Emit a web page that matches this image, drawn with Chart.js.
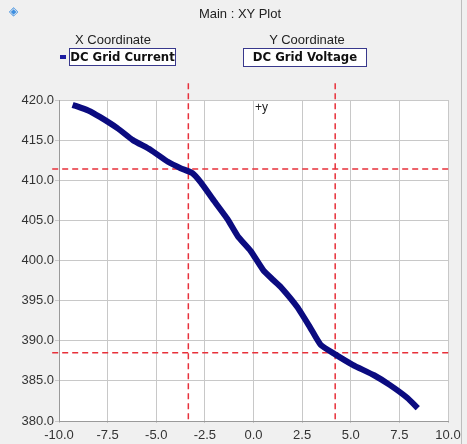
<!DOCTYPE html>
<html>
<head>
<meta charset="UTF-8">
<title>Main : XY Plot</title>
<script src="https://cdn.jsdelivr.net/npm/chart.js@4.4.0/dist/chart.umd.min.js"></script>
<style>
  body { margin:0; background:#f0f0f0; font-family:"Liberation Sans", Arial, sans-serif; }
  #wrap { position:relative; width:467px; height:444px; overflow:hidden; }
  .lbl { position:absolute; font-size:13px; color:#222; white-space:nowrap; }
  .box { position:absolute; border:1.5px solid #38388c; background:#fff; font-family:"DejaVu Sans Condensed","DejaVu Sans",sans-serif;
         font-weight:bold; font-size:13px; color:#111; text-align:center; line-height:16px; box-sizing:border-box; white-space:nowrap; }
  #edge { position:absolute; left:461px; top:0; width:1px; height:444px; background:#bdbdbd; }
</style>
</head>
<body>
<div id="wrap">
  <canvas id="myChart" width="467" height="444"></canvas>
  <div class="lbl" style="left:9px;top:4px;color:#3c8ee0;font-size:12px;">&#9672;</div>
  <div class="lbl" style="left:190px;top:6px;width:100px;text-align:center;">Main : XY Plot</div>
  <div class="lbl" style="left:63px;top:32px;width:100px;text-align:center;">X Coordinate</div>
  <div style="position:absolute;left:60px;top:55px;width:6px;height:4px;background:#1c1ca0;"></div>
  <div class="box" style="left:69px;top:48px;width:107px;height:18px;">DC Grid Current</div>
  <div class="lbl" style="left:257px;top:32px;width:100px;text-align:center;">Y Coordinate</div>
  <div class="box" style="left:243px;top:48px;width:124px;height:19px;">DC Grid Voltage</div>
  <div class="lbl" style="left:255px;top:100px;font-size:12px;">+y</div>
  <div id="edge"></div>
</div>

<script>
  // DC grid current (x) vs DC grid voltage (y), read along the band
  let currentX = [-9.3, -8.5, -7.9, -7.0, -6.2, -5.3, -4.4, -3.75, -3.15, -2.7, -2.05, -1.35, -0.8, -0.15, 0.5, 1.0, 1.4, 2.25, 2.9, 3.45, 4.2, 5.1, 6.2, 7.0, 7.9, 8.45];
  let voltageY = [419.4, 418.7, 417.9, 416.5, 415.0, 413.8, 412.3, 411.5, 410.9, 409.7, 407.5, 405.2, 403.0, 401.2, 398.8, 397.6, 396.7, 394.2, 391.7, 389.5, 388.3, 387.0, 385.7, 384.5, 382.9, 381.6];

  // cursor lines
  let cursorX = [-3.35, 4.2];
  let cursorY = [411.4, 388.5];
  let cursorTop = 422.1, cursorBottom = 380.1;
  let cursorLeft = -10.35, cursorRight = 10.1;

  let xTicks = [-10, -7.5, -5, -2.5, 0, 2.5, 5, 7.5, 10];
  let yTicks = [380, 385, 390, 395, 400, 405, 410, 415, 420];

  let pts = currentX.map(function(x, i){ return {x: x, y: voltageY[i]}; });

  let datasets = [{
    data: pts,
    borderColor: '#0b0b80',
    backgroundColor: '#0b0b80',
    borderWidth: 6,
    pointRadius: 0,
    tension: 0.15,
    showLine: true
  }];
  cursorX.forEach(function(v){
    datasets.push({ data: [{x: v, y: cursorTop}, {x: v, y: cursorBottom}], borderColor: '#e8303a', borderWidth: 1.5,
      borderDash: [6, 4], pointRadius: 0, showLine: true, clip: false });
  });
  cursorY.forEach(function(v){
    datasets.push({ data: [{x: cursorLeft, y: v}, {x: cursorRight, y: v}], borderColor: '#e8303a', borderWidth: 1.5,
      borderDash: [6, 4], pointRadius: 0, showLine: true, clip: false });
  });

  const whiteArea = {
    id: 'whiteArea',
    beforeDraw: function(chart){
      let a = chart.chartArea, c = chart.ctx;
      c.save(); c.fillStyle = '#ffffff';
      c.fillRect(a.left, a.top, a.right - a.left, a.bottom - a.top);
      c.restore();
    }
  };

  new Chart("myChart", {
    type: "scatter",
    data: { datasets: datasets },
    plugins: [whiteArea],
    options: {
      responsive: false,
      animation: false,
      layout: { padding: { left: 0, top: 100, right: 19, bottom: 0 } },
      plugins: { legend: {display: false}, tooltip: {enabled: false} },
      scales: {
        x: {
          type: 'linear', min: -10, max: 10,
          afterBuildTicks: function(s){ s.ticks = xTicks.map(function(v){ return {value: v}; }); },
          afterFit: function(s){ s.height = 23; },
          grid: { color: '#c8c8c8', tickLength: 2, lineWidth: 1 },
          border: { color: '#9a9a9a' },
          ticks: { color: '#333', font: {family: 'Liberation Sans', size: 13}, padding: 5, maxRotation: 0,
                   callback: function(v){ return v.toFixed(1); } }
        },
        y: {
          type: 'linear', min: 380, max: 420,
          afterBuildTicks: function(s){ s.ticks = yTicks.map(function(v){ return {value: v}; }); },
          afterFit: function(s){ s.width = 59; },
          grid: { color: '#c8c8c8', tickLength: 4, lineWidth: 1 },
          border: { color: '#9a9a9a' },
          ticks: { color: '#333', font: {family: 'Liberation Sans', size: 13}, padding: 1,
                   callback: function(v){ return v.toFixed(1); } }
        }
      }
    }
  });
</script>
</body>
</html>
